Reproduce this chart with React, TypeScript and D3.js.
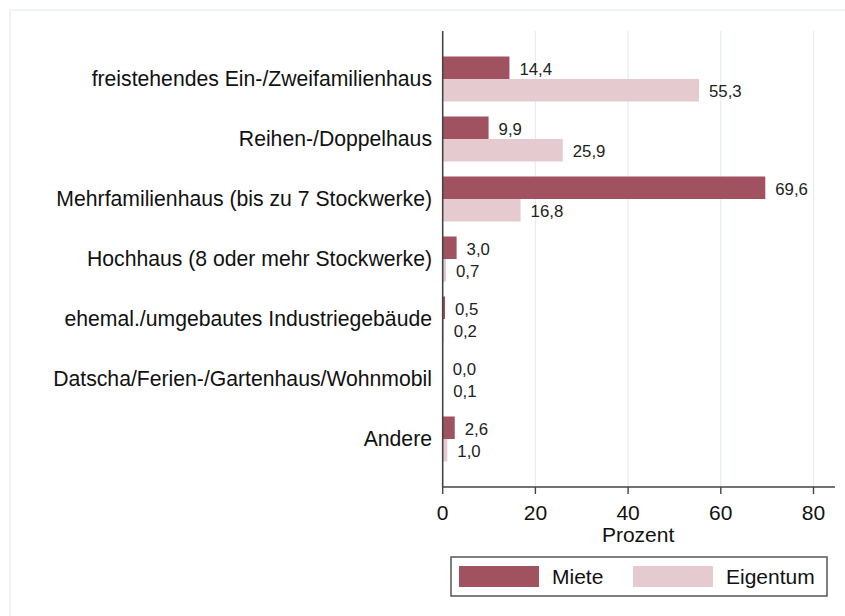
import React from "react";
import * as d3 from "d3";

const categories = [
  "freistehendes Ein-/Zweifamilienhaus",
  "Reihen-/Doppelhaus",
  "Mehrfamilienhaus (bis zu 7 Stockwerke)",
  "Hochhaus (8 oder mehr Stockwerke)",
  "ehemal./umgebautes Industriegebäude",
  "Datscha/Ferien-/Gartenhaus/Wohnmobil",
  "Andere",
];
const miete = [14.4, 9.9, 69.6, 3.0, 0.5, 0.0, 2.6];
const eigentum = [55.3, 25.9, 16.8, 0.7, 0.2, 0.1, 1.0];
const xTicks = [0, 20, 40, 60, 80];
const seriesNames = ["Miete", "Eigentum"];
const seriesColors = ["#a05261", "#e5cacf"];

const W = 845;
const H = 616;
const FONT = "'Liberation Sans', Arial, sans-serif";

export default function App() {
  const x = d3.scaleLinear().domain([0, 80]).range([442.7, 813.5]);
  const y = d3.scalePoint<string>().domain(categories).range([31, 487]).padding(0.8);
  const barH = 22.5;
  const fmt = (v: number) => v.toFixed(1).replace(".", ",");
  const axisY = 487;

  return (
    <svg
      width={W}
      height={H}
      style={{ position: "absolute", left: 0, top: 0, background: "#fff" }}
      fontFamily={FONT}
    >
      <rect x={0} y={0} width={W} height={H} fill="#fff" />
      <rect x={10} y={10} width={W} height={H} fill="none" stroke="#eaf0f2" strokeWidth={1.5} />
      {/* gridlines */}
      {xTicks.slice(1).map((t) => (
        <line key={t} x1={x(t)} x2={x(t)} y1={31} y2={axisY} stroke="#e6eef1" strokeWidth={1.3} />
      ))}
      {/* bars */}
      {categories.map((c, i) => {
        const cy = y(c) as number;
        return (
          <g key={c}>
            <rect x={x(0)} y={cy - barH} width={x(miete[i]) - x(0)} height={barH} fill={seriesColors[0]} />
            <rect x={x(0)} y={cy} width={x(eigentum[i]) - x(0)} height={barH} fill={seriesColors[1]} />
            <text x={x(miete[i]) + 10} y={cy - barH / 2 + 7} fontSize={16.8} fill="#222">
              {fmt(miete[i])}
            </text>
            <text x={x(eigentum[i]) + 10} y={cy + barH / 2 + 7} fontSize={16.8} fill="#222">
              {fmt(eigentum[i])}
            </text>
            <text x={432} y={cy + 7} fontSize={21.2} textAnchor="end" fill="#111">
              {c}
            </text>
          </g>
        );
      })}
      {/* axes */}
      <line x1={x(0)} x2={x(0)} y1={31} y2={axisY} stroke="#444" strokeWidth={1.6} />
      <line x1={x(0) - 0.8} x2={835} y1={axisY} y2={axisY} stroke="#444" strokeWidth={1.6} />
      {xTicks.map((t) => (
        <g key={t}>
          <line x1={x(t)} x2={x(t)} y1={axisY} y2={axisY + 7} stroke="#444" strokeWidth={1.4} />
          <text x={x(t)} y={520} fontSize={21} textAnchor="middle" fill="#111">
            {t}
          </text>
        </g>
      ))}
      <text x={x(40) + 10} y={541.5} fontSize={21} textAnchor="middle" fill="#111">
        Prozent
      </text>
      {/* legend */}
      <rect x={451} y={557} width={376} height={39} fill="#fff" stroke="#555" strokeWidth={1.5} />
      {seriesNames.map((s, i) => {
        const sx = [459, 633][i];
        const tx = [552, 726][i];
        return (
          <g key={s}>
            <rect x={sx} y={566} width={80} height={21} fill={seriesColors[i]} />
            <text x={tx} y={584} fontSize={21} fill="#111">
              {s}
            </text>
          </g>
        );
      })}
    </svg>
  );
}
